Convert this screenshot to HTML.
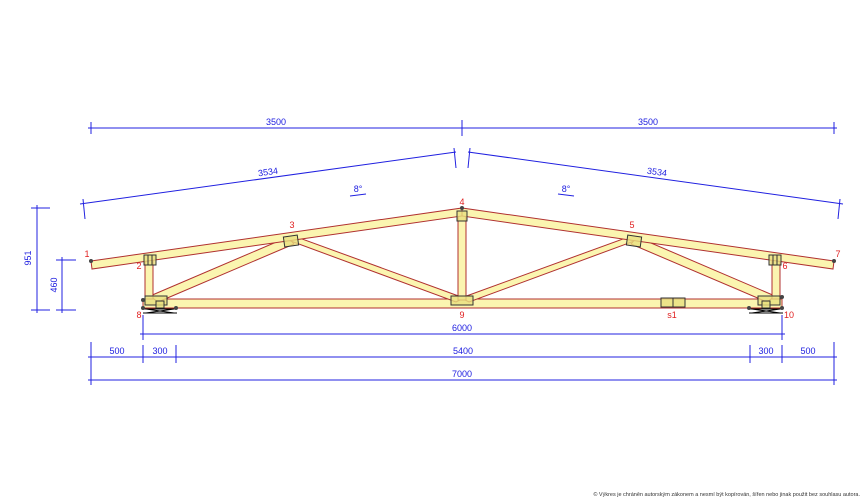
<!DOCTYPE html>
<html><head><meta charset="utf-8"><style>
html,body{margin:0;padding:0;background:#fff;}
svg{display:block;font-family:"Liberation Sans",sans-serif;}
</style></head><body>
<svg width="867" height="502" viewBox="0 0 867 502" xmlns="http://www.w3.org/2000/svg">
<g fill="#fbf5b0" stroke="#b03030" stroke-width="1">
<!-- bottom chord -->
<rect x="143" y="299" width="639" height="9"/>
<!-- diagonals -->
<polygon points="150,296 288,237 294,244 158,302"/>
<polygon points="288,240 294,236 464,298 456,302"/>
<polygon points="631,236 637,240 469,302 461,298"/>
<polygon points="631,244 637,237 775,296 767,302"/>
<!-- verticals -->
<rect x="145" y="258" width="8" height="41"/>
<rect x="772" y="258" width="8" height="41"/>
<rect x="458" y="212" width="8" height="88"/>
<!-- top chords -->
<polygon points="91,261 462,208 462,216 92,269"/>
<polygon points="834,261 462,208 462,216 833,269"/>
</g>
<!-- plates -->
<g fill="#e8e080" fill-opacity="0.8" stroke="#333" stroke-width="1">
<rect x="144" y="255" width="12" height="10"/><line x1="148" y1="255" x2="148" y2="265"/><line x1="152" y1="255" x2="152" y2="265"/>
<rect x="769" y="255" width="12" height="10"/><line x1="773" y1="255" x2="773" y2="265"/><line x1="777" y1="255" x2="777" y2="265"/>
<rect x="284" y="236" width="14" height="10" transform="rotate(-8 291 241)"/>
<rect x="627" y="236" width="14" height="10" transform="rotate(8 634 241)"/>
<rect x="457" y="211" width="10" height="10"/>
<rect x="451" y="296" width="22" height="9"/>
<rect x="661" y="298" width="24" height="9"/><line x1="673" y1="298" x2="673" y2="307"/>
<rect x="145" y="296" width="22" height="9"/>
<rect x="156" y="301" width="8" height="7"/>
<rect x="758" y="296" width="22" height="9"/>
<rect x="762" y="301" width="8" height="7"/>
</g>
<!-- supports -->
<g stroke="#000" stroke-width="1" fill="none">
<path d="M143,309 L177,309 M143,313 L177,313 M146,309 L174,313 M174,309 L146,313"/>
<path d="M749,309 L783,309 M749,313 L783,313 M752,309 L780,313 M780,309 L752,313"/>
</g>
<g fill="#444">
<circle cx="91" cy="261" r="2"/><circle cx="834" cy="261" r="2"/><circle cx="462" cy="208" r="2"/>
<circle cx="143" cy="300" r="2"/><circle cx="143" cy="308" r="2"/><circle cx="176" cy="308" r="2"/>
<circle cx="782" cy="297" r="2"/><circle cx="782" cy="308" r="2"/><circle cx="749" cy="308" r="2"/>
</g>
<!-- node labels -->
<g fill="#e02020" font-size="9" text-anchor="middle">
<text x="87" y="257">1</text><text x="139" y="269">2</text><text x="292" y="228">3</text>
<text x="462" y="205">4</text><text x="632" y="228">5</text><text x="785" y="269">6</text>
<text x="838" y="257">7</text><text x="139" y="318">8</text><text x="462" y="318">9</text>
<text x="789" y="318">10</text><text x="672" y="318">s1</text>
</g>
<!-- dimensions -->
<g stroke="#2020e0" stroke-width="1" fill="none">
<line x1="88" y1="128" x2="837" y2="128"/>
<line x1="91" y1="122" x2="91" y2="134"/><line x1="462" y1="120" x2="462" y2="136"/><line x1="834" y1="122" x2="834" y2="134"/>
<line x1="80" y1="204" x2="456" y2="152"/><line x1="468" y1="152" x2="843" y2="204"/>
<line x1="83" y1="199" x2="85" y2="219"/><line x1="454" y1="148" x2="456" y2="168"/>
<line x1="470" y1="148" x2="468" y2="168"/><line x1="840" y1="199" x2="838" y2="219"/>
<line x1="350" y1="196" x2="366" y2="194"/><line x1="558" y1="194" x2="574" y2="196"/>
<line x1="37" y1="205" x2="37" y2="313"/><line x1="31" y1="208" x2="50" y2="208"/><line x1="31" y1="310" x2="50" y2="310"/>
<line x1="62" y1="257" x2="62" y2="313"/><line x1="56" y1="260" x2="76" y2="260"/><line x1="56" y1="310" x2="76" y2="310"/>
<line x1="140" y1="334" x2="785" y2="334"/><line x1="143" y1="315" x2="143" y2="340"/><line x1="782" y1="315" x2="782" y2="340"/>
<line x1="88" y1="357" x2="837" y2="357"/>
<line x1="91" y1="342" x2="91" y2="385"/><line x1="143" y1="345" x2="143" y2="363"/><line x1="176" y1="345" x2="176" y2="363"/>
<line x1="750" y1="345" x2="750" y2="363"/><line x1="782" y1="345" x2="782" y2="363"/><line x1="834" y1="342" x2="834" y2="385"/>
<line x1="88" y1="380" x2="837" y2="380"/>
</g>
<g fill="#2020e0" font-size="9" text-anchor="middle">
<text x="276" y="125">3500</text><text x="648" y="125">3500</text>
<text x="268" y="175" transform="rotate(-8 268 172)">3534</text>
<text x="657" y="175" transform="rotate(8 657 172)">3534</text>
<text x="358" y="192">8°</text><text x="566" y="192">8°</text>
<text x="31" y="258" transform="rotate(-90 31 258)">951</text>
<text x="57" y="285" transform="rotate(-90 57 285)">460</text>
<text x="462" y="331">6000</text>
<text x="117" y="354">500</text><text x="160" y="354">300</text><text x="463" y="354">5400</text>
<text x="766" y="354">300</text><text x="808" y="354">500</text>
<text x="462" y="377">7000</text>
</g>
<text x="860" y="496" font-size="5.5" fill="#333" text-anchor="end">© Výkres je chráněn autorským zákonem a nesmí být kopírován, šířen nebo jinak použit bez souhlasu autora.</text>
</svg>
</body></html>
